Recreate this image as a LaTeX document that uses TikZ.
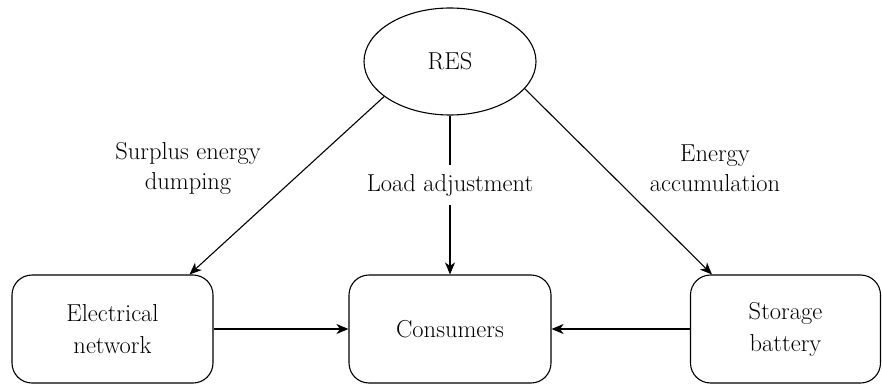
\documentclass[tikz,border=0pt]{standalone}
\usetikzlibrary{shapes.geometric,arrows.meta}
\tikzset{
  box/.style={draw, rounded corners=20pt, minimum width=201pt, minimum height=108pt, inner sep=0pt, align=center, font=\rmfamily\fontsize{24.5}{32}\selectfont, line width=1.1pt},
  ell/.style={draw, ellipse, minimum width=172pt, minimum height=107pt, inner sep=0pt, font=\rmfamily\fontsize{24.5}{32}\selectfont, line width=1.1pt},
  lbl/.style={align=center, font=\rmfamily\fontsize{24.5}{30}\selectfont},
  arr/.style={line width=1.1pt, -{Stealth[length=12pt,width=10pt,inset=3.5pt]}}
}
\begin{document}
\begin{tikzpicture}[x=1pt,y=-1pt]
\useasboundingbox (0,0) rectangle (882,385);
\node[ell] (res) at (450,61.5) {RES};
\node[box] (el) at (112.5,329) {Electrical\\network};
\node[box, minimum width=202pt] (co) at (450,329) {Consumers};
\node[box, minimum width=190pt] (sb) at (785.5,329) {Storage\\battery};
\coordinate (elin) at ([xshift=-24pt]el.north east);
\coordinate (sbin) at ([xshift=22pt]sb.north west);
\draw[arr] (res.208) -- (elin);
\draw[arr] (res.-20) -- (sbin);
\draw[arr] (res.south) -- (co.north);
\draw[arr] (el.east) -- (co.west);
\draw[arr] (sb.west) -- (co.east);
\node[lbl, fill=white, inner ysep=9.5pt, inner xsep=2pt] (la) at (450,185) {Load adjustment};
\node[lbl] (sd) at (188,168) {Surplus energy\\dumping};
\node[lbl] (ea) at (715,168) {Energy\\accumulation};
\end{tikzpicture}
\end{document}
